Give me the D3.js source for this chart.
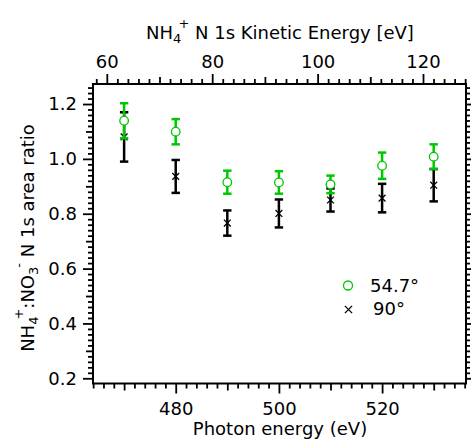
<!DOCTYPE html>
<html><head><meta charset="utf-8">
<script src="https://cdn.jsdelivr.net/npm/d3@7"></script>
<style>
body{margin:0;background:#fff}
text{font-family:"DejaVu Sans",Verdana,sans-serif;fill:#000}
</style></head>
<body><svg id="c" width="471" height="448"></svg>
<script>
// ---- data ----
const photonEnergy = [470, 480, 490, 500, 510, 520, 530];
const ratio547 = [1.139, 1.099, 0.915, 0.914, 0.907, 0.975, 1.008];
const err547   = [0.064, 0.046, 0.042, 0.041, 0.032, 0.048, 0.045];
const ratio90  = [1.080, 0.936, 0.766, 0.801, 0.850, 0.857, 0.904];
const err90    = [0.090, 0.060, 0.046, 0.051, 0.042, 0.052, 0.059];
const bottomTickLabels = [480, 500, 520];
const topTickLabels = [60, 80, 100, 120];
const yTickLabels = [0.2, 0.4, 0.6, 0.8, 1.0, 1.2];
const legendLabels = ["54.7°", "90°"];

// ---- layout ----
const L = 93, R = 466, T = 84, B = 383.5;
const green = "#00c800";
const svg = d3.select("#c");

const x = d3.scaleLinear().domain([463.97, 536.26]).range([L, R]);
const xTop = d3.scaleLinear().domain([57.38, 128.16]).range([L, R]);
const y = d3.scaleLinear().domain([0.181, 1.273]).range([B, T]);

function styleAxis(g) {
  g.select(".domain").remove();
  g.selectAll("line").attr("stroke", "#000").attr("stroke-width", 1.8);
  g.selectAll("text").style("font-size", "18px").style("font-family", '"DejaVu Sans",Verdana,sans-serif');
}
const eps = 1e-6;
const range = (a, b, s) => d3.range(a, b + eps, s);

// bottom axis
const bMinor = range(464, 536, 2).filter(v => v % 10 !== 0);
const bMed = range(470, 530, 10).filter(v => v % 20 !== 0);
svg.append("g").attr("transform", `translate(0,${B})`)
  .call(d3.axisBottom(x).tickValues(bMinor).tickSize(5).tickFormat("")).call(styleAxis);
svg.append("g").attr("transform", `translate(0,${B})`)
  .call(d3.axisBottom(x).tickValues(bMed).tickSize(7).tickFormat("")).call(styleAxis);
svg.append("g").attr("transform", `translate(0,${B})`)
  .call(d3.axisBottom(x).tickValues(bottomTickLabels).tickSize(10).tickPadding(9).tickFormat(d3.format("d"))).call(styleAxis);

// top axis
const tMinor = range(58, 128, 2).filter(v => v % 10 !== 0);
const tMed = range(60, 128, 10).filter(v => v % 20 !== 0);
svg.append("g").attr("transform", `translate(0,${T})`)
  .call(d3.axisTop(xTop).tickValues(tMinor).tickSize(5).tickFormat("")).call(styleAxis);
svg.append("g").attr("transform", `translate(0,${T})`)
  .call(d3.axisTop(xTop).tickValues(tMed).tickSize(7).tickFormat("")).call(styleAxis);
svg.append("g").attr("transform", `translate(0,${T})`)
  .call(d3.axisTop(xTop).tickValues(topTickLabels).tickSize(10).tickPadding(6).tickFormat(d3.format("d"))).call(styleAxis);

// left axis
const yMinor = range(0.2, 1.26, 0.02).filter(v => Math.abs(v * 10 - Math.round(v * 10)) > 1e-6);
const yMed = range(0.3, 1.2, 0.2);
svg.append("g").attr("transform", `translate(${L},0)`)
  .call(d3.axisLeft(y).tickValues(yMinor).tickSize(5).tickFormat("")).call(styleAxis);
svg.append("g").attr("transform", `translate(${L},0)`)
  .call(d3.axisLeft(y).tickValues(yMed).tickSize(7).tickFormat("")).call(styleAxis);
svg.append("g").attr("transform", `translate(${L},0)`)
  .call(d3.axisLeft(y).tickValues(yTickLabels).tickSize(10).tickPadding(6).tickFormat(d3.format(".1f"))).call(styleAxis);
// right mirror ticks
svg.append("g").attr("transform", `translate(${R},0)`)
  .call(d3.axisRight(y).tickValues(yMinor.concat(yMed)).tickSize(4).tickFormat("")).call(styleAxis);
svg.append("g").attr("transform", `translate(${R},0)`)
  .call(d3.axisRight(y).tickValues(yTickLabels).tickSize(6).tickFormat("")).call(styleAxis);

// frame
svg.append("rect").attr("x", L).attr("y", T).attr("width", R - L).attr("height", B - T)
  .attr("fill", "none").attr("stroke", "#000").attr("stroke-width", 2);

// series
const series = [
  {vals: ratio90, errs: err90, color: "#000", marker: "x"},
  {vals: ratio547, errs: err547, color: green, marker: "o"}
];
const capW = 4.2;
series.forEach(s => {
  const g = svg.append("g");
  photonEnergy.forEach((e, i) => {
    const cx = x(e), v = s.vals[i], er = s.errs[i];
    const y1 = y(v + er), y2 = y(v - er);
    g.append("line").attr("x1", cx).attr("x2", cx).attr("y1", y1).attr("y2", y2)
      .attr("stroke", s.color).attr("stroke-width", 2.5);
    [y1, y2].forEach(yy => g.append("line").attr("x1", cx - capW).attr("x2", cx + capW)
      .attr("y1", yy).attr("y2", yy).attr("stroke", s.color).attr("stroke-width", 2.5));
  });
  photonEnergy.forEach((e, i) => {
    const cx = x(e), cy = y(s.vals[i]);
    if (s.marker === "o") {
      g.append("circle").attr("cx", cx).attr("cy", cy).attr("r", 4.3)
        .attr("fill", "#fff").attr("stroke", s.color).attr("stroke-width", 1.3);
    } else {
      const d = 3.4;
      g.append("path").attr("d", `M${cx - d},${cy - d}L${cx + d},${cy + d}M${cx - d},${cy + d}L${cx + d},${cy - d}`)
        .attr("stroke", s.color).attr("stroke-width", 1.3).attr("fill", "none");
    }
  });
});

// legend
svg.append("circle").attr("cx", 348).attr("cy", 285.5).attr("r", 4.5)
  .attr("fill", "none").attr("stroke", green).attr("stroke-width", 1.3);
svg.append("text").attr("x", 370).attr("y", 292).style("font-size", "18px").text(legendLabels[0]);
{
  const cx = 348.5, cy = 309.5, d = 3.6;
  svg.append("path").attr("d", `M${cx - d},${cy - d}L${cx + d},${cy + d}M${cx - d},${cy + d}L${cx + d},${cy - d}`)
    .attr("stroke", "#000").attr("stroke-width", 1.3);
}
svg.append("text").attr("x", 373).attr("y", 315).style("font-size", "18px").text(legendLabels[1]);

// axis titles
const bt = svg.append("text").attr("x", 280).attr("y", 435).attr("text-anchor", "middle")
  .style("font-size", "18px").text("Photon energy (eV)");

const tt = svg.append("text").attr("x", 280).attr("y", 39).attr("text-anchor", "middle").style("font-size", "18px");
tt.append("tspan").text("NH");
tt.append("tspan").attr("dy", 4).style("font-size", "13px").text("4");
tt.append("tspan").attr("dy", -15).attr("dx", -3).style("font-size", "13px").text("+");
tt.append("tspan").attr("dy", 11).text(" N 1s Kinetic Energy [eV]");

const yl = svg.append("text").attr("transform", "translate(34,238) rotate(-90)")
  .attr("text-anchor", "middle").style("font-size", "18px");
yl.append("tspan").text("NH");
yl.append("tspan").attr("dy", 4).style("font-size", "13px").text("4");
yl.append("tspan").attr("dy", -15).attr("dx", -3).style("font-size", "13px").text("+");
yl.append("tspan").attr("dy", 11).text(":NO");
yl.append("tspan").attr("dy", 4).style("font-size", "13px").text("3");
yl.append("tspan").attr("dy", -15).attr("dx", -1).style("font-size", "13px").text("-");
yl.append("tspan").attr("dy", 11).text(" N 1s area ratio");
</script></body></html>
